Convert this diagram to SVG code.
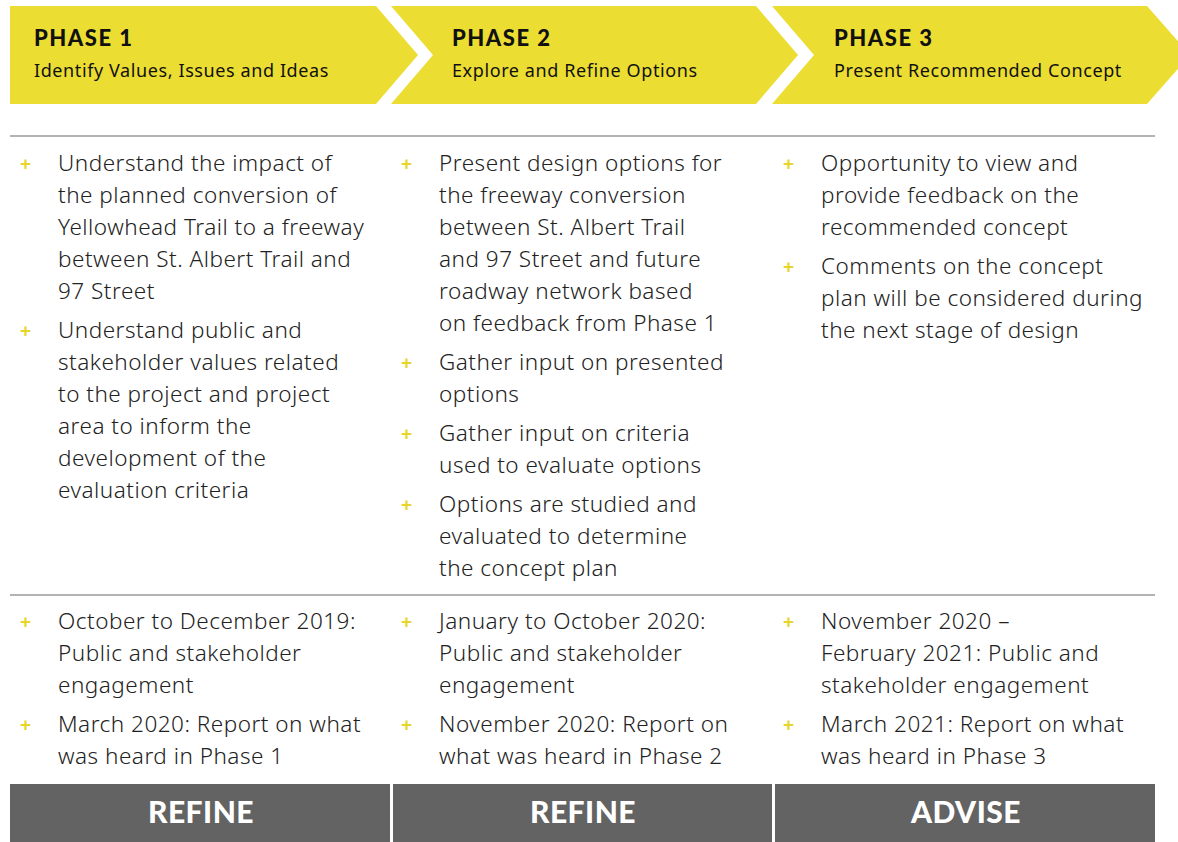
<svg xmlns="http://www.w3.org/2000/svg" width="1178" height="842" viewBox="0 0 1178 842">
<style>
.ban{fill:#ECDD32}
.ph{font-family:"Lato","Liberation Sans",sans-serif;font-weight:900;font-size:22px;letter-spacing:1.5px;fill:#111}
.sub{font-family:"Noto Sans","Liberation Sans",sans-serif;font-size:18px;letter-spacing:0.6px;fill:#111}
.b{font-family:"Noto Sans","Liberation Sans",sans-serif;font-size:22.5px;letter-spacing:0.5px;fill:#222;font-weight:300}
.plus{font-family:"Liberation Sans",sans-serif;font-weight:bold;font-size:19px;fill:#E8D52A}
.rule{stroke:#9a9a9a;stroke-width:1.5}
.bar{fill:#636363}
.bt{font-family:"Lato","Liberation Sans",sans-serif;font-weight:900;font-size:30px;letter-spacing:0.5px;fill:#fff;text-anchor:middle}
</style>
<g id="phase1">
<polygon class="ban" points="10,6 376,6 418,55 376,104 10,104"/>
<text class="ph" x="34" y="46">PHASE 1</text>
<text class="sub" x="34" y="77">Identify Values, Issues and Ideas</text>
</g>
<g id="phase2">
<polygon class="ban" points="391,6 756,6 798,55 756,104 391,104 433,55"/>
<text class="ph" x="452" y="46">PHASE 2</text>
<text class="sub" x="452" y="77">Explore and Refine Options</text>
</g>
<g id="phase3">
<polygon class="ban" points="772,6 1147,6 1190,55 1147,104 772,104 814,55"/>
<text class="ph" x="834" y="46">PHASE 3</text>
<text class="sub" x="834" y="77">Present Recommended Concept</text>
</g>
<g id="rules">
<line class="rule" x1="10" y1="136" x2="1155" y2="136"/>
<line class="rule" x1="10" y1="595" x2="1155" y2="595"/>
</g>
<g id="activities1">
<text class="plus" x="20" y="170">+</text>
<text class="b" x="58" y="171">Understand the impact of</text>
<text class="b" x="58" y="203">the planned conversion of</text>
<text class="b" x="58" y="235">Yellowhead Trail to a freeway</text>
<text class="b" x="58" y="267">between St. Albert Trail and</text>
<text class="b" x="58" y="299">97 Street</text>
<text class="plus" x="20" y="337">+</text>
<text class="b" x="58" y="338">Understand public and</text>
<text class="b" x="58" y="370">stakeholder values related</text>
<text class="b" x="58" y="402">to the project and project</text>
<text class="b" x="58" y="434">area to inform the</text>
<text class="b" x="58" y="466">development of the</text>
<text class="b" x="58" y="498">evaluation criteria</text>
</g>
<g id="activities2">
<text class="plus" x="401" y="170">+</text>
<text class="b" x="439" y="171">Present design options for</text>
<text class="b" x="439" y="203">the freeway conversion</text>
<text class="b" x="439" y="235">between St. Albert Trail</text>
<text class="b" x="439" y="267">and 97 Street and future</text>
<text class="b" x="439" y="299">roadway network based</text>
<text class="b" x="439" y="331">on feedback from Phase 1</text>
<text class="plus" x="401" y="369">+</text>
<text class="b" x="439" y="370">Gather input on presented</text>
<text class="b" x="439" y="402">options</text>
<text class="plus" x="401" y="440">+</text>
<text class="b" x="439" y="441">Gather input on criteria</text>
<text class="b" x="439" y="473">used to evaluate options</text>
<text class="plus" x="401" y="511">+</text>
<text class="b" x="439" y="512">Options are studied and</text>
<text class="b" x="439" y="544">evaluated to determine</text>
<text class="b" x="439" y="576">the concept plan</text>
</g>
<g id="activities3">
<text class="plus" x="783" y="170">+</text>
<text class="b" x="821" y="171">Opportunity to view and</text>
<text class="b" x="821" y="203">provide feedback on the</text>
<text class="b" x="821" y="235">recommended concept</text>
<text class="plus" x="783" y="273">+</text>
<text class="b" x="821" y="274">Comments on the concept</text>
<text class="b" x="821" y="306">plan will be considered during</text>
<text class="b" x="821" y="338">the next stage of design</text>
</g>
<g id="timeline1">
<text class="plus" x="20" y="628">+</text>
<text class="b" x="58" y="629">October to December 2019:</text>
<text class="b" x="58" y="661">Public and stakeholder</text>
<text class="b" x="58" y="693">engagement</text>
<text class="plus" x="20" y="731">+</text>
<text class="b" x="58" y="732">March 2020: Report on what</text>
<text class="b" x="58" y="764">was heard in Phase 1</text>
</g>
<g id="timeline2">
<text class="plus" x="401" y="628">+</text>
<text class="b" x="439" y="629">January to October 2020:</text>
<text class="b" x="439" y="661">Public and stakeholder</text>
<text class="b" x="439" y="693">engagement</text>
<text class="plus" x="401" y="731">+</text>
<text class="b" x="439" y="732">November 2020: Report on</text>
<text class="b" x="439" y="764">what was heard in Phase 2</text>
</g>
<g id="timeline3">
<text class="plus" x="783" y="628">+</text>
<text class="b" x="821" y="629">November 2020 –</text>
<text class="b" x="821" y="661">February 2021: Public and</text>
<text class="b" x="821" y="693">stakeholder engagement</text>
<text class="plus" x="783" y="731">+</text>
<text class="b" x="821" y="732">March 2021: Report on what</text>
<text class="b" x="821" y="764">was heard in Phase 3</text>
</g>
<g id="bar1">
<rect class="bar" x="10" y="784" width="380" height="58"/>
<text class="bt" x="201" y="823">REFINE</text>
</g>
<g id="bar2">
<rect class="bar" x="393" y="784" width="379" height="58"/>
<text class="bt" x="583" y="823">REFINE</text>
</g>
<g id="bar3">
<rect class="bar" x="775" y="784" width="380" height="58"/>
<text class="bt" x="966" y="823">ADVISE</text>
</g>
</svg>
